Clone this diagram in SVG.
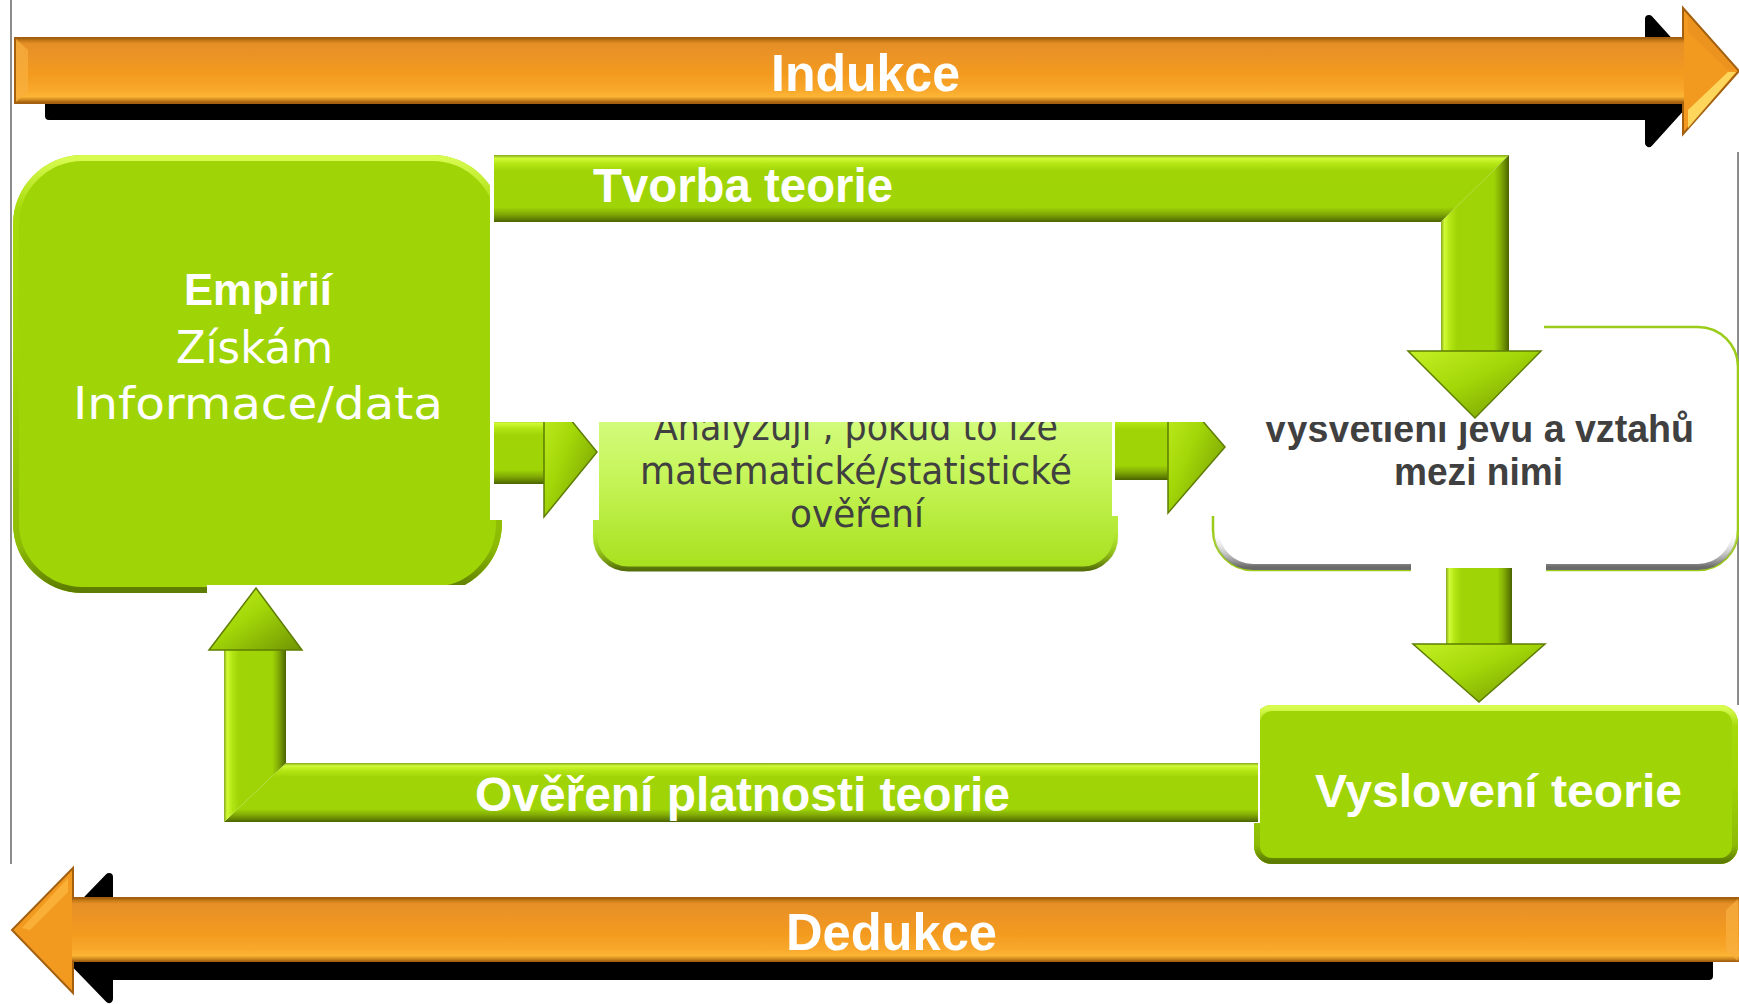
<svg xmlns="http://www.w3.org/2000/svg" width="1739" height="1004" viewBox="0 0 1739 1004">
<style>
.bold{font-family:"Liberation Sans",Arial,sans-serif;font-weight:bold}
.reg{font-family:"DejaVu Sans","Liberation Sans",sans-serif}
.white{fill:#ffffff}
.dark{fill:#404040}
.ov{fill:#ffffff}
.head{fill:url(#gHead);stroke:#5e7d02;stroke-width:1.5}
</style>
<defs>
<linearGradient id="gV" x1="0" y1="0" x2="0" y2="1">
<stop offset="0" stop-color="#86a820"/><stop offset="0.05" stop-color="#d0fa35"/><stop offset="0.13" stop-color="#b4e614"/><stop offset="0.24" stop-color="#a0d406"/><stop offset="0.78" stop-color="#9fd406"/><stop offset="0.88" stop-color="#82ab05"/><stop offset="0.96" stop-color="#5e7d02"/><stop offset="1" stop-color="#4a6200"/>
</linearGradient>
<linearGradient id="gHz" x1="0" y1="0" x2="1" y2="0">
<stop offset="0" stop-color="#86a820"/><stop offset="0.05" stop-color="#d0fa35"/><stop offset="0.13" stop-color="#b4e614"/><stop offset="0.24" stop-color="#a0d406"/><stop offset="0.78" stop-color="#9fd406"/><stop offset="0.88" stop-color="#82ab05"/><stop offset="0.96" stop-color="#5e7d02"/><stop offset="1" stop-color="#4a6200"/>
</linearGradient>
<linearGradient id="gHead" x1="0" y1="0" x2="1" y2="1">
<stop offset="0" stop-color="#c4f024"/><stop offset="0.45" stop-color="#a3d708"/><stop offset="1" stop-color="#6f9403"/>
</linearGradient>
<linearGradient id="gBox" x1="0" y1="0" x2="0" y2="1">
<stop offset="0" stop-color="#d8fb50"/><stop offset="0.12" stop-color="#a6da0a"/><stop offset="0.5" stop-color="#9fd406"/><stop offset="0.9" stop-color="#8dbb05"/><stop offset="1" stop-color="#5d7c00"/>
</linearGradient>
<linearGradient id="gMid" x1="0" y1="0" x2="0" y2="1">
<stop offset="0" stop-color="#dcff96"/><stop offset="0.5" stop-color="#c6f55a"/><stop offset="1" stop-color="#a7e01c"/>
</linearGradient>
<linearGradient id="gMidEdge" x1="0" y1="0" x2="0" y2="1">
<stop offset="0" stop-color="#e8ffb0" stop-opacity="0.6"/><stop offset="0.8" stop-color="#a7e01c" stop-opacity="0"/><stop offset="0.93" stop-color="#7a9c10" stop-opacity="0.7"/><stop offset="1" stop-color="#55700a"/>
</linearGradient>
<linearGradient id="gShadow" x1="0" y1="0" x2="0" y2="1">
<stop offset="0" stop-color="#ffffff" stop-opacity="0"/><stop offset="0.85" stop-color="#ffffff" stop-opacity="0"/><stop offset="0.96" stop-color="#9a9a9a" stop-opacity="0.8"/><stop offset="1" stop-color="#6a6a6a"/>
</linearGradient>
<linearGradient id="gOrA" gradientUnits="userSpaceOnUse" x1="0" y1="38" x2="0" y2="103">
<stop offset="0" stop-color="#9c5a0c"/><stop offset="0.04" stop-color="#c77a17"/><stop offset="0.09" stop-color="#e58f27"/><stop offset="0.35" stop-color="#ee9524"/><stop offset="0.55" stop-color="#f39a1e"/><stop offset="0.8" stop-color="#f8a82c"/><stop offset="0.9" stop-color="#fdb535"/><stop offset="0.96" stop-color="#c7801b"/><stop offset="1" stop-color="#8f520a"/>
</linearGradient>
<linearGradient id="gOrB" gradientUnits="userSpaceOnUse" x1="0" y1="898" x2="0" y2="962">
<stop offset="0" stop-color="#9c5a0c"/><stop offset="0.04" stop-color="#c77a17"/><stop offset="0.09" stop-color="#e58f27"/><stop offset="0.35" stop-color="#ee9524"/><stop offset="0.55" stop-color="#f39a1e"/><stop offset="0.8" stop-color="#f8a82c"/><stop offset="0.9" stop-color="#fdb535"/><stop offset="0.96" stop-color="#c7801b"/><stop offset="1" stop-color="#8f520a"/>
</linearGradient>
<clipPath id="clipTop"><rect x="0" y="422" width="1739" height="600"/><rect x="1544" y="0" width="195" height="1004"/></clipPath>
</defs>

<!-- frame lines -->
<line x1="11" y1="0" x2="11" y2="864" stroke="#666666" stroke-width="1.5"/>
<line x1="1738" y1="152" x2="1738" y2="705" stroke="#666666" stroke-width="1.5"/>

<!-- Indukce arrow -->
<g id="indukce">
<path d="M49,60 H1649 V19 L1705,81 L1649,143 V116 H49 Z" fill="#000" stroke="#000" stroke-width="8" stroke-linejoin="round"/>
<path d="M15,38 H1683 V8 L1739,71 L1683,134 V103 H15 Z" fill="#f29a20" stroke="#a4600f" stroke-width="2"/>
<rect x="16" y="39" width="1668" height="63" fill="url(#gOrA)"/>
<path d="M16,39 L28,50 V91 L16,102 Z" fill="#f8b040" opacity="0.7"/>
<path d="M1688,110 L1728,72 L1736,72 L1688,128 Z" fill="#ffe066" opacity="0.85"/>
<path d="M1688,32 L1728,70 L1736,70 L1688,16 Z" fill="#e89020" opacity="0.6"/>
<text class="bold white" x="771" y="91" font-size="52" textLength="189" lengthAdjust="spacingAndGlyphs">Indukce</text>
</g>

<!-- Dedukce arrow -->
<g id="dedukce">
<path d="M1709,920 H109 V877 L50,938 L109,999 V976 H1709 Z" fill="#000" stroke="#000" stroke-width="8" stroke-linejoin="round"/>
<path d="M1739,898 H73 V868 L12,930 L73,993 V961 H1739 Z" fill="#f29a20" stroke="#a4600f" stroke-width="2"/>
<rect x="72" y="899" width="1667" height="62" fill="url(#gOrB)"/>
<path d="M1738,899 L1726,910 V950 L1738,961 Z" fill="#f8b040" opacity="0.7"/>
<path d="M68,878 L22,928 L30,930 L68,892 Z" fill="#fbb23a" opacity="0.9"/>
<text class="bold white" x="786" y="950" font-size="52" textLength="211" lengthAdjust="spacingAndGlyphs">Dedukce</text>
</g>

<!-- Nodes (boxes) -->
<g id="empirii">
<rect x="13" y="155" width="489" height="438" rx="70" fill="#9fd406"/>
<rect x="16" y="158" width="483" height="432" rx="67" fill="none" stroke="url(#gBox)" stroke-width="6"/>
</g>
<g id="analyza">
<rect x="593" y="380" width="525" height="191" rx="35" fill="url(#gMid)"/>
<rect x="595" y="382" width="521" height="187" rx="33" fill="none" stroke="url(#gMidEdge)" stroke-width="5"/>
</g>
<g id="vysvetleni">
<rect x="1213" y="327" width="525" height="243" rx="40" fill="#ffffff" stroke="#9ccc1a" stroke-width="2.5"/>
<rect x="1216" y="330" width="519" height="237" rx="37" fill="none" stroke="url(#gShadow)" stroke-width="6"/>
</g>
<g id="vysloveni">
<rect x="1254" y="705" width="484" height="159" rx="18" fill="#9fd406"/>
<rect x="1257" y="708" width="478" height="153" rx="15" fill="none" stroke="url(#gBox)" stroke-width="6"/>
</g>

<!-- white overlays (as in the picture) -->
<rect class="ov" x="490" y="150" width="109" height="370"/>
<rect class="ov" x="1112" y="300" width="101" height="216"/>
<rect class="ov" x="1213" y="300" width="12" height="216"/>
<rect class="ov" x="207" y="585" width="313" height="15"/>
<rect class="ov" x="1411" y="562" width="135" height="16"/>
<rect class="ov" x="1240" y="695" width="20" height="128"/>

<!-- connectors -->
<g id="connectors">
<g id="arrow-empirii-analyza">
<rect x="494" y="420" width="51" height="64" fill="url(#gV)"/>
<path d="M544,387 L597,452 L544,517 Z" class="head"/>
</g>
<g id="arrow-analyza-vysvetleni">
<rect x="1115" y="414" width="54" height="66" fill="url(#gV)"/>
<path d="M1168,381 L1225,447 L1168,513 Z" class="head"/>
</g>
<rect class="ov" x="490" y="160" width="1054" height="262"/>
<g id="arrow-tvorba">
<path d="M494,155 H1509 L1441,222 H494 Z" fill="url(#gV)"/>
<path d="M1509,155 V352 H1441 V222 Z" fill="url(#gHz)"/>
<path d="M1408,351 H1541 L1475,418 Z" class="head"/>
<text class="bold white" x="593" y="202" font-size="48" textLength="300" lengthAdjust="spacingAndGlyphs">Tvorba teorie</text>
</g>
<g id="arrow-vysvetleni-vysloveni">
<rect x="1446" y="568" width="66" height="77" fill="url(#gHz)"/>
<path d="M1413,644 H1545 L1479,702 Z" class="head"/>
</g>
<g id="arrow-overeni">
<path d="M224,822 L286,763 H1258 V822 Z" fill="url(#gV)"/>
<path d="M224,649 H286 V763 L224,822 Z" fill="url(#gHz)"/>
<path d="M209,650 L256,588 L302,650 Z" class="head"/>
<text class="bold white" x="475" y="811" font-size="48" textLength="535" lengthAdjust="spacingAndGlyphs">Ověření platnosti teorie</text>
</g>
</g>

<!-- node texts -->
<g id="empirii-text">
<text class="bold white" x="184" y="305" font-size="44" textLength="148" lengthAdjust="spacingAndGlyphs">Empirií</text>
<text class="reg white" x="176" y="363" font-size="45" textLength="157" lengthAdjust="spacingAndGlyphs">Získám</text>
<text class="reg white" x="73" y="419" font-size="45" textLength="370" lengthAdjust="spacingAndGlyphs">Informace/data</text>
</g>
<g id="analyza-text" clip-path="url(#clipTop)">
<text class="reg dark" x="654" y="440" font-size="37" textLength="404" lengthAdjust="spacingAndGlyphs">Analyzuji , pokud to lze</text>
<text class="reg dark" x="640" y="484" font-size="37" textLength="432" lengthAdjust="spacingAndGlyphs">matematické/statistické</text>
<text class="reg dark" x="790" y="527" font-size="37" textLength="134" lengthAdjust="spacingAndGlyphs">ověření</text>
</g>
<g id="vysvetleni-text" clip-path="url(#clipTop)">
<text class="bold dark" x="1263" y="442" font-size="38" textLength="431" lengthAdjust="spacingAndGlyphs">Vysvětlení jevů a vztahů</text>
<text class="bold dark" x="1394" y="485" font-size="38" textLength="169" lengthAdjust="spacingAndGlyphs">mezi nimi</text>
</g>
<g id="vysloveni-text">
<text class="bold white" x="1315" y="807" font-size="47" textLength="367" lengthAdjust="spacingAndGlyphs">Vyslovení teorie</text>
</g>
</svg>
